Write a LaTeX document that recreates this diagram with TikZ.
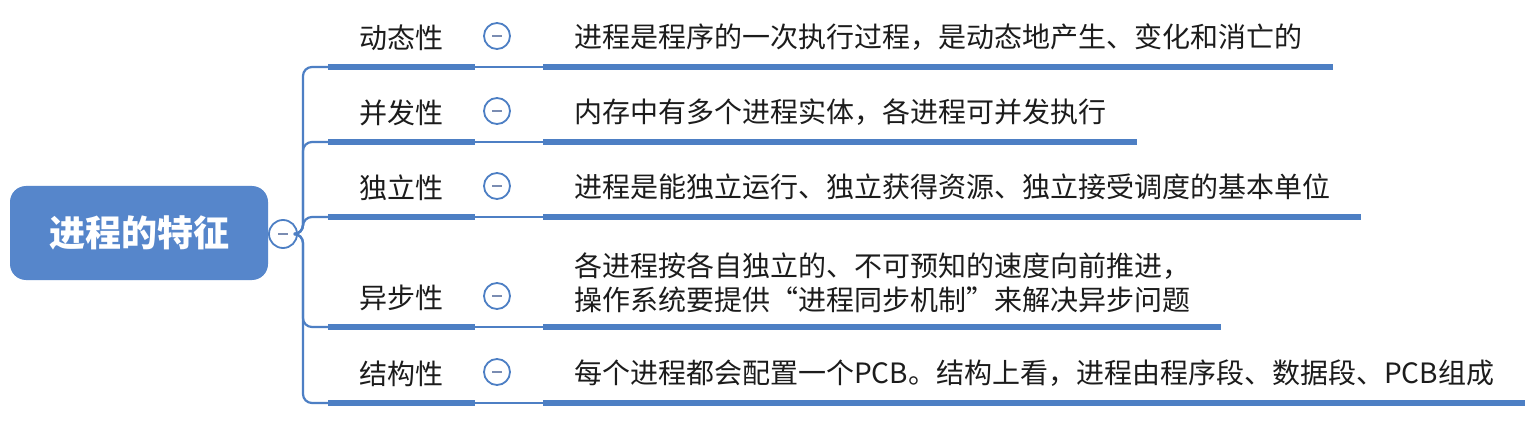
\documentclass[tikz,border=0pt]{standalone}
\usepackage{fontspec}
\newfontfamily\cjk{Noto Sans CJK SC}
\usetikzlibrary{calc}
\definecolor{featblue}{HTML}{4D7FC4}
\definecolor{featroot}{HTML}{5686CB}
\definecolor{featminus}{HTML}{7A8CB2}
\definecolor{feattext}{HTML}{1C1C1C}
\tikzset{
  rootbox/.style={fill=featroot, rounded corners=16pt, minimum width=258pt,
                  minimum height=94pt, text=white,
                  font=\cjk\bfseries\fontsize{36}{40}\selectfont},
  fold/.style={circle, draw=featblue, line width=1.8pt, fill=white,
               minimum size=26pt, inner sep=0pt,
               path picture={\draw[featminus, line width=2pt]
                 ($(path picture bounding box.center)+(-5pt,0)$) -- ++(10pt,0);}},
  feat/.style={anchor=south west, minimum width=147pt, minimum height=58pt,
               inner sep=0pt, text=feattext, font=\cjk\fontsize{28}{34}\selectfont},
  desc/.style={anchor=south west, inner xsep=31pt, inner ysep=0pt,
               minimum height=59pt, align=left, text=feattext,
               font=\cjk\fontsize{28}{34}\selectfont},
  uline/.style={draw=featblue, line width=6pt},
  link/.style={draw=featblue, line width=2.2pt},
  branch/.style={draw=featblue, line width=2.2pt, rounded corners=9pt},
}
\begin{document}
\begin{tikzpicture}[x=1pt, y=-1pt]
\path[fill=white] (0,0) rectangle (1532,433);

\node[rootbox] (root) at (139,233) {进程的特征};
\node[fold, minimum size=28pt] (rfold) at (283,234) {};
\coordinate (trunk) at (303,234);

\node[feat] (f1) at (328,67)  {动态性};
\node[feat] (f2) at (328,142) {并发性};
\node[feat] (f3) at (328,217) {独立性};
\node[feat] (f4) at (328,327) {异步性};
\node[feat] (f5) at (328,403) {结构性};

\node[fold] (o1) at (497,36)  {};
\node[fold] (o2) at (497,111) {};
\node[fold] (o3) at (497,186) {};
\node[fold] (o4) at (497,296) {};
\node[fold] (o5) at (497,372) {};

\node[desc] (d1) at (543,67)  {进程是程序的一次执行过程，是动态地产生、变化和消亡的};
\node[desc] (d2) at (543,142) {内存中有多个进程实体，各进程可并发执行};
\node[desc] (d3) at (543,217) {进程是能独立运行、独立获得资源、独立接受调度的基本单位};
\node[desc, minimum height=88pt] (d4) at (543,327)
  {各进程按各自独立的、不可预知的速度向前推进，\\操作系统要提供“进程同步机制”来解决异步问题};
\node[desc] (d5) at (543,403) {每个进程都会配置一个PCB。结构上看，进程由程序段、数据段、PCB组成};

% tree from the root to each feature
\foreach \f in {f1,f2,f3,f4,f5}
  \draw[branch] (rfold.east) -- (trunk) |- (\f.south west);

\foreach \i in {1,...,5} {
  \draw[link] (f\i.south east) -- (d\i.south west);
  \draw[uline] (f\i.south west) -- (f\i.south east);
  \draw[uline] (d\i.south west) -- (d\i.south east);
}

\end{tikzpicture}
\end{document}
